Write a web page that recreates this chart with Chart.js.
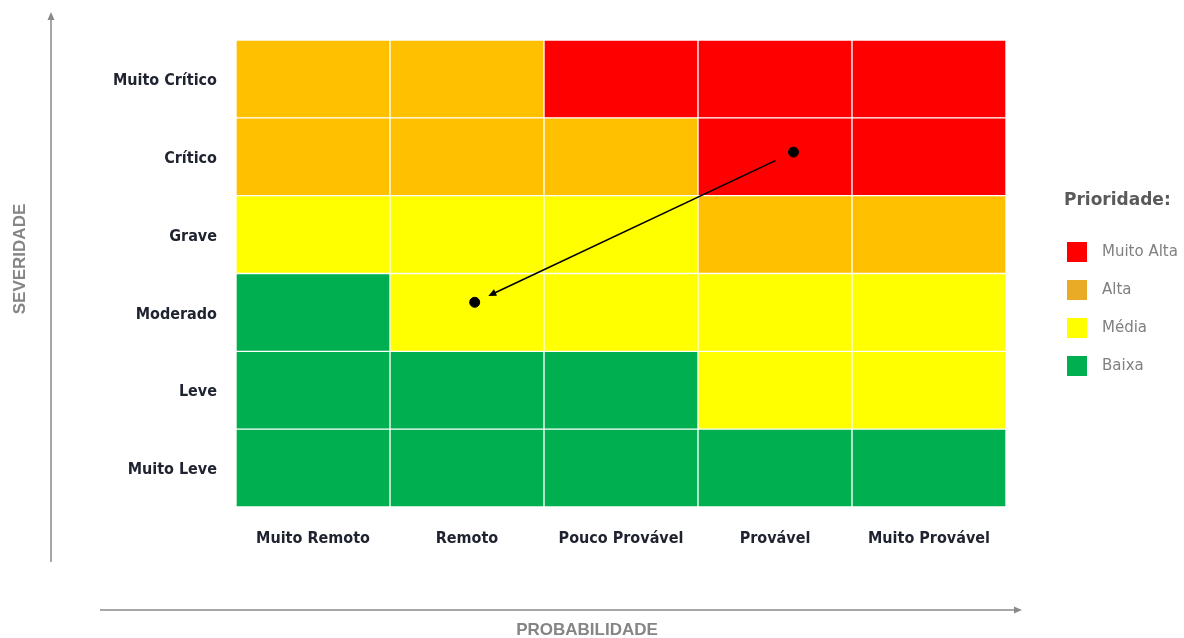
<!DOCTYPE html>
<html>
<head>
<meta charset="utf-8">
<script src="https://cdn.jsdelivr.net/npm/chart.js@4/dist/chart.umd.min.js"></script>
<style>
    html, body { margin: 0; padding: 0; background: #ffffff; }
    #wrap { width: 1184px; height: 638px; }
</style>
</head>
<body>
<div id="wrap"><canvas id="riskChart" width="1184" height="638"></canvas></div>
<script>
const probabilidade = ["Muito Remoto", "Remoto", "Pouco Provável", "Provável", "Muito Provável"];
// bottom to top
const severidade = ["Muito Leve", "Leve", "Moderado", "Grave", "Crítico", "Muito Crítico"];

const prioridades = ["Muito Alta", "Alta", "Média", "Baixa"];
const prioridadeCores = ["#ff0000", "#ffc000", "#ffff00", "#00b050"];
const legendaCores = ["#ff0000", "#e9ab26", "#ffff00", "#00b050"];

// priority index (into prioridades) per cell, one array per severity row
const nivelMuitoLeve = [3, 3, 3, 3, 3];
const nivelLeve = [3, 3, 3, 2, 2];
const nivelModerado = [3, 2, 2, 2, 2];
const nivelGrave = [2, 2, 2, 1, 1];
const nivelCritico = [1, 1, 1, 0, 0];
const nivelMuitoCritico = [1, 1, 0, 0, 0];
const niveis = [nivelMuitoLeve, nivelLeve, nivelModerado, nivelGrave, nivelCritico, nivelMuitoCritico];

// risk before -> after (x: probability, y: severity, in cell units)
const riscoX = [3.62, 1.55];
const riscoY = [4.56, 2.63];

const tickFont = { family: "'DejaVu Sans Condensed', 'DejaVu Sans'", size: 16, weight: "bold" };
const tickColor = "#1f2330";

const cellDatasets = niveis.map((row, r) => ({
    type: "bar",
    label: severidade[r],
    data: row.map((lvl, c) => ({ x: c + 0.5, y: [r, r + 1] })),
    backgroundColor: row.map(lvl => prioridadeCores[lvl]),
    borderColor: "rgba(255,255,255,0.75)",
    borderWidth: 1,
    borderSkipped: false,
    grouped: false,
    barPercentage: 1,
    categoryPercentage: 1,
    order: 2
}));

const riscoDataset = {
    type: "scatter",
    label: "Risco",
    data: riscoX.map((x, i) => ({ x: x, y: riscoY[i] })),
    backgroundColor: "#000000",
    borderColor: "#000000",
    pointRadius: 5,
    pointHoverRadius: 5,
    order: 1
};

const decorations = {
    id: "decorations",
    afterDatasetsDraw(chart) {
        const ctx = chart.ctx;
        const xs = chart.scales.x, ys = chart.scales.y;
        // arrow between the two risk points
        const ax = xs.getPixelForValue(riscoX[0]), ay = ys.getPixelForValue(riscoY[0]);
        const bx = xs.getPixelForValue(riscoX[1]), by = ys.getPixelForValue(riscoY[1]);
        const len = Math.hypot(bx - ax, by - ay);
        const ux = (bx - ax) / len, uy = (by - ay) / len;
        const sx = ax + ux * 20, sy = ay + uy * 20;
        const ex = bx - ux * 15, ey = by - uy * 15;
        ctx.save();
        ctx.strokeStyle = "#000000";
        ctx.fillStyle = "#000000";
        ctx.lineWidth = 1.6;
        ctx.beginPath();
        ctx.moveTo(sx, sy);
        ctx.lineTo(ex - ux * 4, ey - uy * 4);
        ctx.stroke();
        ctx.beginPath();
        ctx.moveTo(ex, ey);
        ctx.lineTo(ex - ux * 8 - uy * 3.5, ey - uy * 8 + ux * 3.5);
        ctx.lineTo(ex - ux * 8 + uy * 3.5, ey - uy * 8 - ux * 3.5);
        ctx.closePath();
        ctx.fill();
        ctx.restore();
    },
    afterDraw(chart) {
        const ctx = chart.ctx;
        ctx.save();
        // axis arrows
        ctx.strokeStyle = "#8a8a8a";
        ctx.fillStyle = "#8a8a8a";
        ctx.lineWidth = 1.5;
        ctx.beginPath();
        ctx.moveTo(51, 562);
        ctx.lineTo(51, 18);
        ctx.moveTo(100, 610);
        ctx.lineTo(1016, 610);
        ctx.stroke();
        ctx.beginPath();
        ctx.moveTo(51, 12); ctx.lineTo(47.5, 20); ctx.lineTo(54.5, 20); ctx.closePath();
        ctx.moveTo(1022, 610); ctx.lineTo(1014, 606.5); ctx.lineTo(1014, 613.5); ctx.closePath();
        ctx.fill();

        // axis titles
        ctx.fillStyle = "#858585";
        ctx.font = "bold 17px 'Liberation Sans', Arial";
        ctx.textAlign = "center";
        ctx.textBaseline = "middle";
        ctx.fillText("PROBABILIDADE", 587, 630);
        ctx.translate(20, 259);
        ctx.rotate(-Math.PI / 2);
        ctx.fillText("SEVERIDADE", 0, 0);
        ctx.restore();

        // legend
        ctx.save();
        ctx.textBaseline = "middle";
        ctx.textAlign = "left";
        ctx.fillStyle = "#5a5a5a";
        ctx.font = "bold 17px 'DejaVu Sans'";
        ctx.fillText("Prioridade:", 1064, 201);
        ctx.font = "15px 'DejaVu Sans'";
        prioridades.forEach((p, i) => {
            const cy = 252 + i * 38;
            ctx.fillStyle = legendaCores[i];
            ctx.fillRect(1067, cy - 10, 20, 20);
            ctx.fillStyle = "#808080";
            ctx.fillText(p, 1102, cy);
        });
        ctx.restore();
    }
};

new Chart(document.getElementById("riskChart"), {
    data: {
        datasets: [...cellDatasets, riscoDataset]
    },
    options: {
        responsive: false,
        animation: false,
        layout: {
            padding: { top: 40, right: 178, bottom: 0, left: 0 }
        },
        plugins: {
            legend: { display: false },
            tooltip: { enabled: false }
        },
        scales: {
            x: {
                type: "linear",
                min: 0,
                max: 5,
                offset: false,
                grid: { display: false, offset: false },
                border: { display: false },
                afterBuildTicks: scale => {
                    scale.ticks = probabilidade.map((p, i) => ({ value: i + 0.5 }));
                },
                afterFit: scale => {
                    scale.height = 131;
                    scale.paddingLeft = 0;
                    scale.paddingRight = 0;
                },
                ticks: {
                    padding: 14,
                    maxRotation: 0,
                    autoSkip: false,
                    color: tickColor,
                    font: tickFont,
                    callback: (v) => probabilidade[Math.floor(v)]
                }
            },
            y: {
                type: "linear",
                min: 0,
                max: 6,
                grid: { display: false },
                border: { display: false },
                afterBuildTicks: scale => {
                    scale.ticks = severidade.map((s, i) => ({ value: i + 0.5 }));
                },
                afterFit: scale => {
                    scale.width = 236;
                    scale.paddingTop = 0;
                    scale.paddingBottom = 0;
                },
                ticks: {
                    padding: 11,
                    labelOffset: 2,
                    autoSkip: false,
                    color: tickColor,
                    font: tickFont,
                    callback: (v) => severidade[Math.floor(v)]
                }
            }
        }
    },
    plugins: [decorations]
});
</script>
</body>
</html>
